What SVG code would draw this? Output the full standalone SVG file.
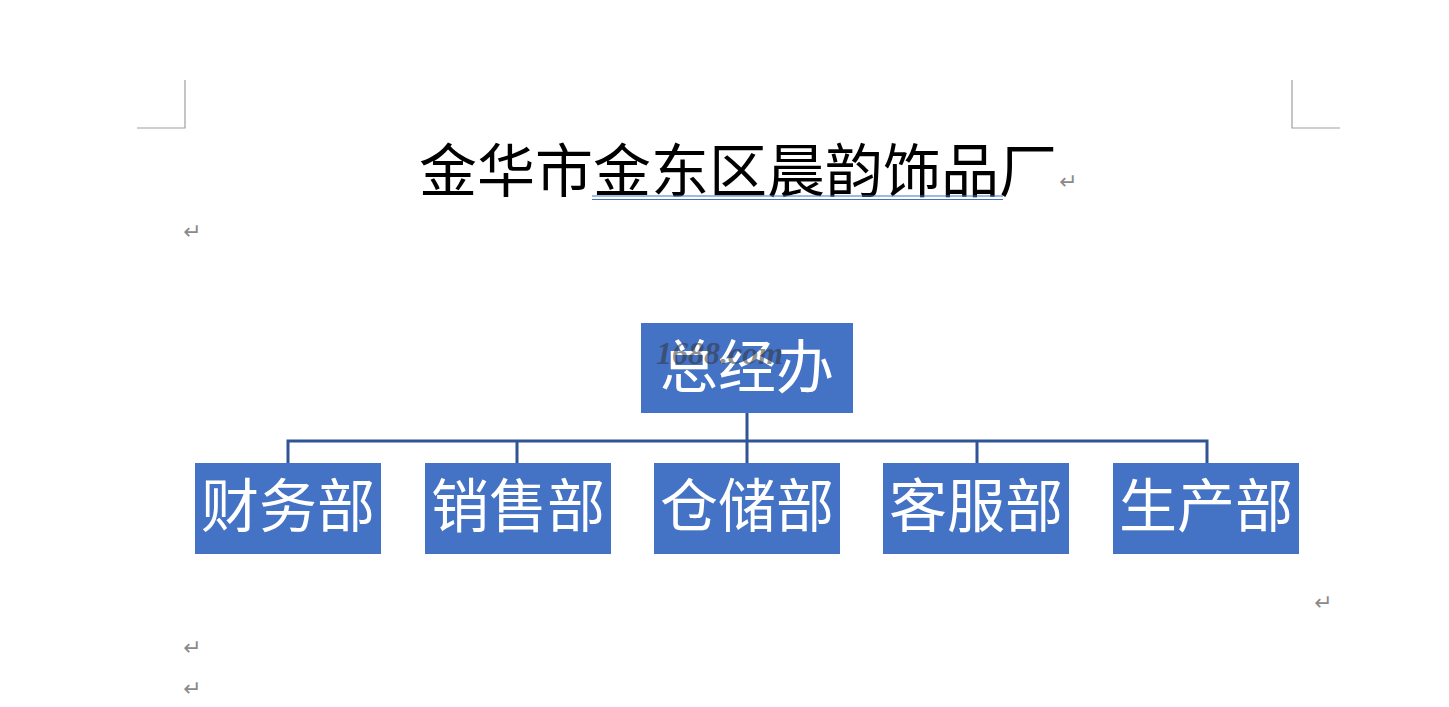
<svg xmlns="http://www.w3.org/2000/svg" width="1449" height="707" viewBox="0 0 1449 707">
<style>
.box{fill:#4472C4}
.lbl{font-family:"Liberation Sans","Noto Sans CJK SC",sans-serif;font-size:58px;fill:#ffffff;text-anchor:middle}
.ret{font-family:"DejaVu Sans",sans-serif;font-size:22px;fill:#8a8a8a}
.mark{stroke:#a0a0a0;stroke-width:1.2;fill:none}
.conn{stroke:#2F5597;stroke-width:3;fill:none}
</style>
<rect width="1449" height="707" fill="#ffffff"/>
<path class="mark" d="M185 80V128H137"/>
<path class="mark" d="M1292 80V128H1340"/>
<text x="738" y="192" font-family="'Liberation Sans','Noto Sans CJK SC',sans-serif" font-size="58" fill="#000" text-anchor="middle">金华市金东区晨韵饰品厂</text>
<line x1="592" y1="196" x2="1003" y2="196" stroke="#4472C4" stroke-width="1"/>
<line x1="592" y1="199.5" x2="1003" y2="199.5" stroke="#4472C4" stroke-width="1"/>
<text class="ret" x="1059" y="189">↵</text>
<text class="ret" x="183" y="239">↵</text>
<text class="ret" x="1314" y="610">↵</text>
<text class="ret" x="183" y="655">↵</text>
<text class="ret" x="183" y="696">↵</text>
<g id="connectors">
<path class="conn" d="M747 413V441M288 463V441H1207V463M517 441V463M747 441V463M977 441V463"/>
</g>
<g id="n0"><rect class="box" x="641" y="323" width="212" height="90"/><text class="lbl" x="747" y="388">总经办</text></g>
<g id="n1"><rect class="box" x="195" y="463" width="186" height="91"/><text class="lbl" x="288" y="527">财务部</text></g>
<g id="n2"><rect class="box" x="425" y="463" width="186" height="91"/><text class="lbl" x="518" y="527">销售部</text></g>
<g id="n3"><rect class="box" x="654" y="463" width="186" height="91"/><text class="lbl" x="747" y="527">仓储部</text></g>
<g id="n4"><rect class="box" x="883" y="463" width="186" height="91"/><text class="lbl" x="976" y="527">客服部</text></g>
<g id="n5"><rect class="box" x="1113" y="463" width="186" height="91"/><text class="lbl" x="1206" y="527">生产部</text></g>
<text x="656" y="364" font-family="'Liberation Serif',serif" font-style="italic" font-weight="bold" font-size="32" fill="#333" fill-opacity="0.55">1688.com</text>
</svg>
